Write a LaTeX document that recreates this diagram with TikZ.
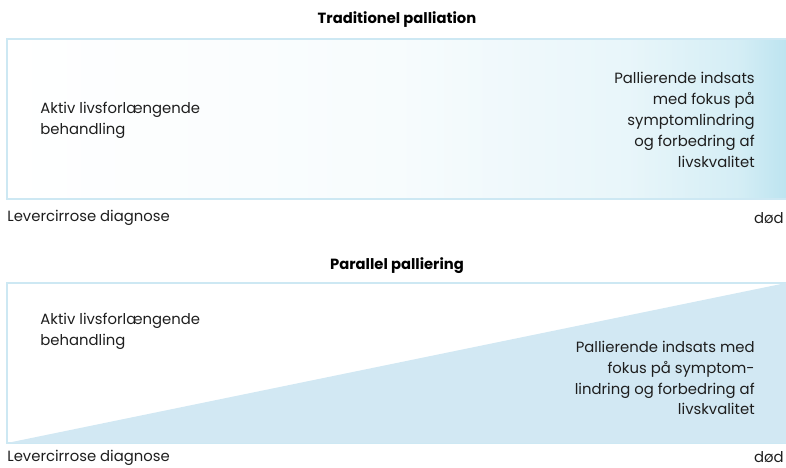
\documentclass[tikz,border=0pt]{standalone}
\usepackage{fontspec}
\setmainfont{Poppins}
\definecolor{boxline}{RGB}{205,232,243}
\definecolor{gradend}{RGB}{189,228,240}
\definecolor{wedge}{RGB}{210,232,243}
\definecolor{txt}{RGB}{30,30,30}
\pgfdeclarehorizontalshading{palgrad}{100bp}{color(0bp)=(white); color(25bp)=(white); color(50bp)=(gradend!12!white); color(65bp)=(gradend!35!white); color(72bp)=(gradend!65!white); color(75bp)=(gradend); color(100bp)=(gradend)}
\tikzset{
	boxtitle/.style={font=\fontsize{8.4}{11.9}\selectfont\bfseries, text=black},
	label/.style={font=\fontsize{8.45}{11.9}\selectfont, text=txt, inner sep=0pt},
}
\begin{document}
\begin{tikzpicture}[x=0.02cm, y=-0.02cm]
	\useasboundingbox (0,0) rectangle (786,467);

	% traditionel palliation
	\node[boxtitle] (t1) at (397,20) {Traditionel palliation};
	\shade[shading=palgrad] (7,39) rectangle (786,199);
	\draw[boxline, line width=0.8pt] (786,39) -- (7,39) -- (7,199) -- (786,199);
	\node[label, anchor=west, align=left]   (a1) at (40,120)  {Aktiv livsforlængende\\behandling};
	\node[label, anchor=east, align=right]  (p1) at (755,120) {Pallierende indsats\\med fokus på\\symptomlindring\\og forbedring af\\livskvalitet};
	\node[label, anchor=west]               (l1) at (7,218)   {Levercirrose diagnose};
	\node[label, anchor=east]               (d1) at (784,218) {død};

	% parallel palliering
	\node[boxtitle] (t2) at (397,266) {Parallel palliering};
	\draw[boxline, line width=0.8pt] (786,283) -- (7,283) -- (7,443) -- (786,443);
	\fill[wedge] (7,443) -- (786,283) -- (786,443) -- cycle;
	\node[label, anchor=west, align=left]   (a2) at (40,331)  {Aktiv livsforlængende\\behandling};
	\node[label, anchor=east, align=right]  (p2) at (755,378) {Pallierende indsats med\\fokus på symptom-\\lindring og forbedring af\\livskvalitet};
	\node[label, anchor=west]               (l2) at (7,457.5) {Levercirrose diagnose};
	\node[label, anchor=east]               (d2) at (784,457.5) {død};
\end{tikzpicture}
\end{document}
